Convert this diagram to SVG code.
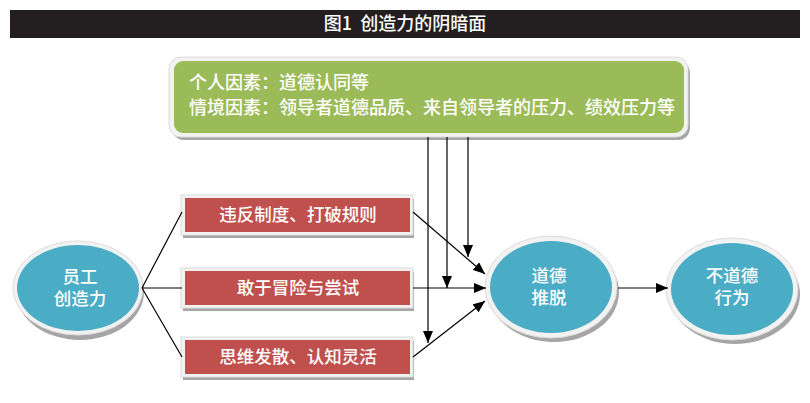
<svg xmlns="http://www.w3.org/2000/svg" width="810" height="403" viewBox="0 0 810 403">
<style>
text{font-family:"Noto Sans CJK SC","Noto Sans",sans-serif;fill:#fff}
.t{font-size:17.5px;text-anchor:middle;font-weight:500}
.g{font-size:18px;font-weight:500}
.shadow{fill:#a5a5a5}
.border{fill:#f2f2f2;stroke:#dcdcdc;stroke-width:1}
.red{fill:#c0504d}
.blue{fill:#4bacc6}
.green{fill:#9bbb59}
.ln{stroke:#000;stroke-width:1.2;fill:none}
</style>
<defs>
<marker id="ah" markerWidth="12" markerHeight="10" refX="12" refY="5" orient="auto" markerUnits="userSpaceOnUse">
<path d="M0,0 L12,5 L0,10 Z" fill="#000"/>
</marker>
</defs>
<rect x="10" y="10" width="790" height="28" fill="#231f20"/>
<text x="405" y="30" style="font-size:18px;font-weight:500;text-anchor:middle" xml:space="preserve">图1  创造力的阴暗面</text>

<g id="factors">
<rect x="172" y="61" width="518" height="79" rx="12" class="shadow"/>
<rect x="169" y="57" width="519" height="80" rx="12" class="border"/>
<rect x="174" y="61" width="510" height="72" rx="9" class="green"/>
<text class="g"><tspan x="189" y="89">个人因素：道德认同等</tspan><tspan x="189" y="114">情境因素：领导者道德品质、来自领导者的压力、绩效压力等</tspan></text>
</g>

<g id="employee">
<ellipse cx="80" cy="292" rx="64" ry="48" class="shadow"/>
<ellipse cx="78" cy="288" rx="65" ry="47" class="border"/>
<ellipse cx="78" cy="288" rx="61" ry="43" class="blue"/>
<text class="t"><tspan x="80" y="283">员工</tspan><tspan x="80" y="305">创造力</tspan></text>
</g>

<g id="box1">
<rect x="183" y="199" width="231" height="39" class="shadow"/>
<rect x="181" y="195" width="232" height="40" class="border"/>
<rect x="185" y="198" width="225" height="34" class="red"/>
<text x="298" y="221" class="t">违反制度、打破规则</text>
</g>
<g id="box2">
<rect x="183" y="272" width="231" height="39" class="shadow"/>
<rect x="181" y="268" width="232" height="40" class="border"/>
<rect x="185" y="271" width="225" height="34" class="red"/>
<text x="298" y="294" class="t">敢于冒险与尝试</text>
</g>
<g id="box3">
<rect x="183" y="341" width="231" height="39" class="shadow"/>
<rect x="181" y="337" width="232" height="40" class="border"/>
<rect x="185" y="340" width="225" height="34" class="red"/>
<text x="298" y="363" class="t">思维发散、认知灵活</text>
</g>

<g id="disengagement">
<ellipse cx="554" cy="292" rx="65" ry="50" class="shadow"/>
<ellipse cx="551" cy="287" rx="66" ry="51" class="border"/>
<ellipse cx="551" cy="287" rx="61" ry="46" class="blue"/>
<text class="t"><tspan x="549" y="282">道德</tspan><tspan x="549" y="304">推脱</tspan></text>
</g>

<g id="unethical">
<ellipse cx="735" cy="294" rx="65" ry="50" class="shadow"/>
<ellipse cx="732" cy="289" rx="66" ry="51" class="border"/>
<ellipse cx="732" cy="289" rx="61" ry="46" class="blue"/>
<text class="t"><tspan x="732" y="282">不道德</tspan><tspan x="732" y="304">行为</tspan></text>
</g>

<g id="connectors">
<path class="ln" d="M142,288 L182,212 M142,288 L182,288 M142,288 L182,357"/>
<path class="ln" d="M413,212 L485,274" marker-end="url(#ah)"/>
<path class="ln" d="M413,288 L486,288" marker-end="url(#ah)"/>
<path class="ln" d="M413,357 L485,301" marker-end="url(#ah)"/>
<path class="ln" d="M428,137 L428,343" marker-end="url(#ah)"/>
<path class="ln" d="M447,137 L447,288" marker-end="url(#ah)"/>
<path class="ln" d="M468,137 L468,257" marker-end="url(#ah)"/>
<path class="ln" d="M618,288 L668,288" marker-end="url(#ah)"/>
</g>
</svg>
